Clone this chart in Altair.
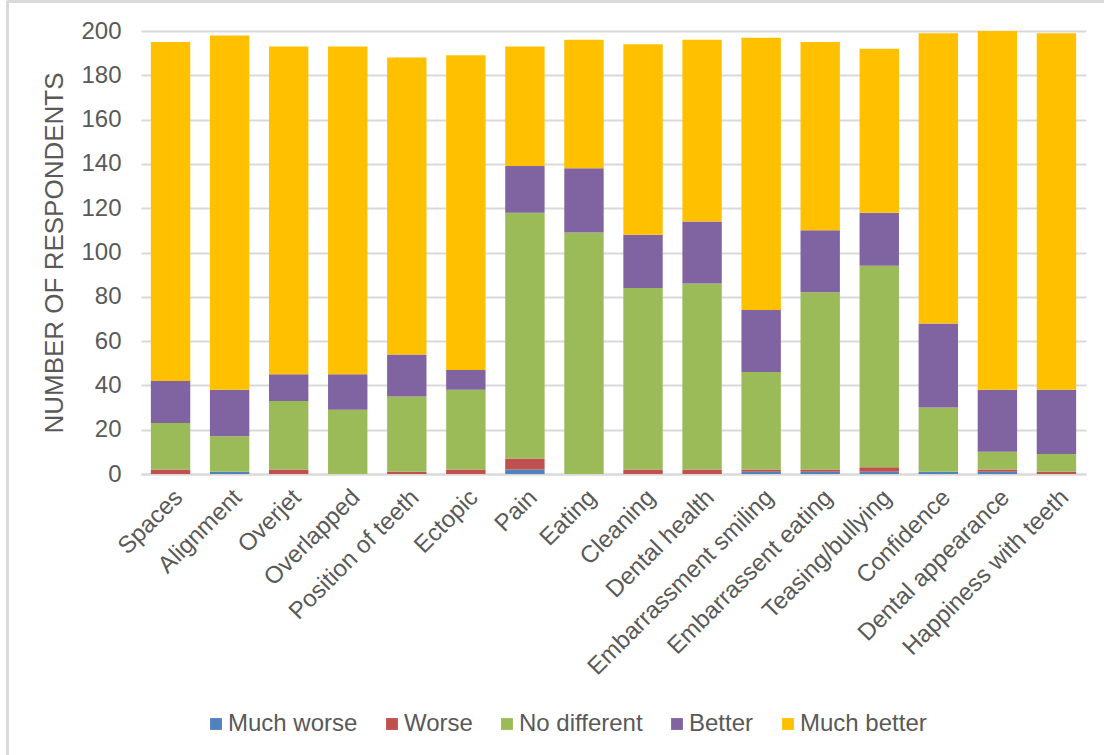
import altair as alt
import pandas as pd

categories = ["Spaces", "Alignment", "Overjet", "Overlapped", "Position of teeth",
              "Ectopic", "Pain", "Eating", "Cleaning", "Dental health",
              "Embarrassment smiling", "Embarrassent eating", "Teasing/bullying",
              "Confidence", "Dental appearance", "Happiness with teeth"]

series = ["Much worse", "Worse", "No different", "Better", "Much better"]
colors = ["#4F81BD", "#C0504D", "#9BBB59", "#8064A2", "#FFC000"]

much_worse   = [0, 1, 0, 0, 0, 0, 2, 0, 0, 0, 1, 1, 1, 1, 1, 0]
worse        = [2, 0, 2, 0, 1, 2, 5, 0, 2, 2, 1, 1, 2, 0, 1, 1]
no_different = [21, 16, 31, 29, 34, 36, 111, 109, 82, 84, 44, 80, 91, 29, 8, 8]
better       = [19, 21, 12, 16, 19, 9, 21, 29, 24, 28, 28, 28, 24, 38, 28, 29]
much_better  = [153, 160, 148, 148, 134, 142, 54, 58, 86, 82, 123, 85, 74, 131, 162, 161]

y_ticks = list(range(0, 201, 20))

values = [much_worse, worse, no_different, better, much_better]
rows = []
for si, (s, vals) in enumerate(zip(series, values)):
    for c, v in zip(categories, vals):
        rows.append({"category": c, "response": s, "count": v, "order": si})
df = pd.DataFrame(rows)

FONT = "Liberation Sans"
GREY = "#595959"

bars = alt.Chart(df).mark_bar().encode(
    x=alt.X("category:N", sort=categories, title=None,
            scale=alt.Scale(paddingInner=0.333, paddingOuter=0.167),
            axis=alt.Axis(labelAngle=-45, labelFontSize=24, labelColor=GREY,
                          labelFont=FONT, ticks=False, labelPadding=11,
                          labelLimit=1000,
                          domainColor="#d9d9d9", domainWidth=2, grid=False)),
    y=alt.Y("count:Q", title="NUMBER OF RESPONDENTS", stack="zero",
            scale=alt.Scale(domain=[0, 200], nice=False),
            axis=alt.Axis(values=y_ticks, labelFontSize=24, labelColor=GREY,
                          labelFont=FONT, ticks=False, domain=False,
                          labelPadding=20, gridColor="#d9d9d9", gridWidth=2,
                          titleFont=FONT, titleFontSize=26, titleColor=GREY,
                          titleFontWeight="normal", titlePadding=13)),
    color=alt.Color("response:N", sort=series,
                    scale=alt.Scale(domain=series, range=colors),
                    legend=alt.Legend(title=None, orient="none", direction="horizontal",
                                      legendX=63, legendY=681,
                                      symbolType="square", symbolSize=140,
                                      symbolStrokeWidth=0, labelFontSize=24,
                                      labelFont=FONT, labelColor=GREY,
                                      labelOffset=0, columnPadding=22,
                                      columns=5)),
    order=alt.Order("order:Q", sort="ascending"),
)

frame_top = alt.Chart(df).mark_rule(color="#d9d9d9", strokeWidth=2).encode(
    x=alt.value(-134), x2=alt.value(970), y=alt.value(-29.5))
frame_left = alt.Chart(df).mark_rule(color="#d9d9d9", strokeWidth=2).encode(
    x=alt.value(-133.5), y=alt.value(-30), y2=alt.value(730))

chart = alt.layer(frame_top, frame_left, bars).properties(
    width=945, height=443,
    padding={"left": 141, "top": 31, "right": 18, "bottom": 281},
    autosize=alt.AutoSizeParams(type="none"),
    background="white",
).configure_view(stroke=None)

chart.save("out.html", embed_options={"renderer": "svg", "actions": False})
